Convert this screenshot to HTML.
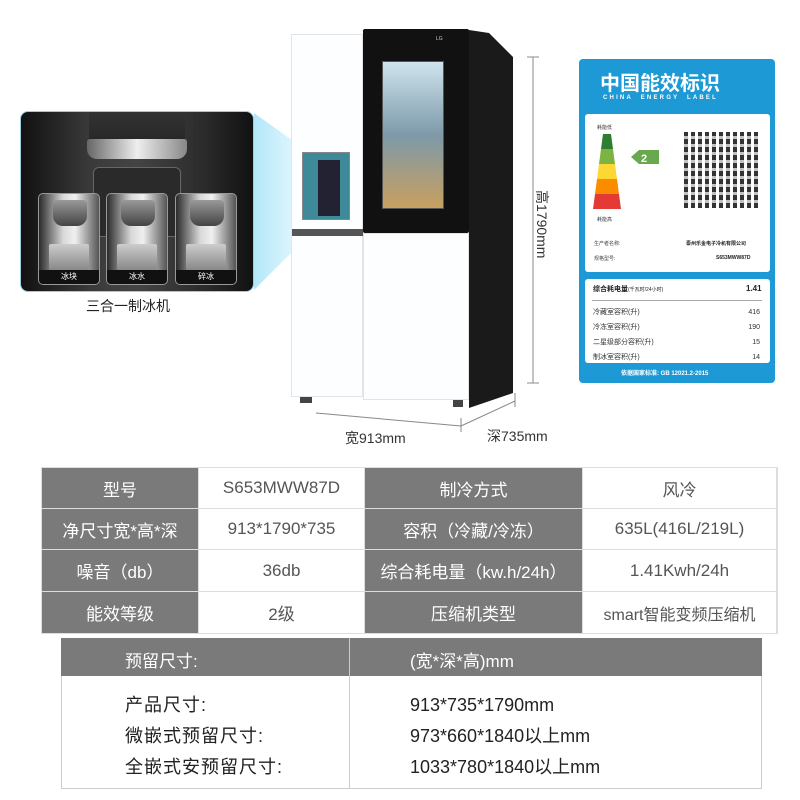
<!DOCTYPE html>
<html><head><meta charset="utf-8"><style>
*{margin:0;padding:0;box-sizing:border-box}
body{width:800px;height:800px;background:#fff;position:relative;overflow:hidden;font-family:"Liberation Sans","Noto Sans CJK SC",sans-serif}
.a{position:absolute}
.t{position:absolute;white-space:nowrap}
.cell{position:absolute;display:flex;align-items:center;justify-content:center;font-size:17px;white-space:nowrap}
.g{background:#7a7a7a;color:#fff}
.w{background:#fff;color:#555}
.panel{position:absolute;top:193px;height:92px;border:1px solid #999;border-radius:5px;background:linear-gradient(90deg,#2a2a2a,#d8d8d8 40%,#f0f0f0 60%,#555);overflow:hidden}
.panel .lb{position:absolute;left:0;right:0;bottom:0;height:14px;background:#111;color:#fff;font-size:8px;text-align:center;line-height:14px}
.panel .tap{position:absolute;left:14px;top:6px;width:34px;height:26px;background:linear-gradient(#999,#444);border-radius:4px 4px 10px 10px}
.panel .glass{position:absolute;left:10px;bottom:14px;width:40px;height:26px;background:linear-gradient(#ccc,#888);border-radius:2px}
</style></head><body>

<svg class="a" style="left:0;top:0" width="800" height="460">
<defs><linearGradient id="beam" x1="0" x2="1"><stop offset="0" stop-color="#a8e4f8" stop-opacity=".9"/><stop offset="1" stop-color="#d8f4fc" stop-opacity=".6"/></linearGradient></defs>
<polygon points="254,113 306,150 306,238 254,290" fill="url(#beam)"/>
<polygon points="469,30 489,33 513,57 513,393 469,408" fill="#1a1a1a"/>
<line x1="533" y1="57" x2="533" y2="383" stroke="#888" stroke-width="1"/>
<line x1="527" y1="57" x2="539" y2="57" stroke="#888"/>
<line x1="527" y1="383" x2="539" y2="383" stroke="#888"/>
<line x1="316" y1="413" x2="461" y2="426" stroke="#888"/>
<line x1="461" y1="426" x2="515" y2="401" stroke="#888"/>
<line x1="461" y1="418" x2="461" y2="432" stroke="#888"/>
<line x1="515" y1="393" x2="515" y2="407" stroke="#888"/>
</svg>
<div class="a" style="left:20px;top:111px;width:234px;height:181px;border-radius:8px;background:linear-gradient(90deg,#111,#3a3a3a 30%,#444 50%,#2a2a2a 80%,#111);border:1px solid #9cd;overflow:hidden">
 <div class="a" style="left:68px;top:0;width:96px;height:42px;background:linear-gradient(#333,#222)"></div>
 <div class="a" style="left:66px;top:27px;width:100px;height:20px;background:linear-gradient(90deg,#666,#eee,#888);border-radius:3px 3px 10px 10px"></div>
 <div class="a" style="left:72px;top:55px;width:88px;height:70px;border:1px solid #666;border-radius:6px;background:#2a2a2a"></div>
</div>
<div class="panel" style="left:38px;width:62px"><div class="tap"></div><div class="glass"></div><div class="lb">冰块</div></div>
<div class="panel" style="left:106px;width:62px"><div class="tap"></div><div class="glass"></div><div class="lb">冰水</div></div>
<div class="panel" style="left:175px;width:62px"><div class="tap"></div><div class="glass"></div><div class="lb">碎冰</div></div>
<div class="t" style="left:86px;top:296px;font-size:14px;color:#222">三合一制冰机</div>

<div class="a" style="left:291px;top:34px;width:72px;height:363px;background:#fcfeff;border:1px solid #e4e4e4"></div>
<div class="a" style="left:302px;top:152px;width:48px;height:68px;background:#3f8a99;border:1px solid #888"></div>
<div class="a" style="left:318px;top:160px;width:22px;height:56px;background:#223"></div>
<div class="a" style="left:292px;top:229px;width:71px;height:7px;background:#555"></div>
<div class="a" style="left:363px;top:29px;width:106px;height:204px;background:#111;border-radius:2px"></div>
<div class="a" style="left:382px;top:61px;width:62px;height:148px;background:linear-gradient(#cfe4ee,#7d99a8 50%,#c8a060);border:1px solid #555"></div>
<div class="a" style="left:363px;top:233px;width:106px;height:167px;background:#fcfeff;border:1px solid #e4e4e4"></div>
<div class="a" style="left:300px;top:397px;width:12px;height:6px;background:#444"></div>
<div class="a" style="left:453px;top:400px;width:10px;height:7px;background:#444"></div>
<div class="t" style="left:436px;top:36px;font-size:5px;color:#ccc">LG</div>

<div class="t" style="top:190px;font-size:14px;color:#333;transform:rotate(90deg);transform-origin:0 0;left:552px">高1790mm</div>
<div class="t" style="left:345px;top:428px;font-size:14px;color:#333">宽913mm</div>
<div class="t" style="left:487px;top:426px;font-size:14px;color:#333">深735mm</div>

<div class="a" style="left:579px;top:59px;width:196px;height:324px;background:#1d9ad6;border-radius:4px"></div>
<div class="t" style="left:600px;top:67px;font-size:20px;font-weight:bold;color:#fff;letter-spacing:0px">中国能效标识</div>
<div class="t" style="left:603px;top:95px;font-size:6px;font-weight:bold;color:#fff;letter-spacing:2.2px">CHINA&nbsp;&nbsp;ENERGY&nbsp;&nbsp;LABEL</div>
<div class="a" style="left:585px;top:114px;width:185px;height:158px;background:#fff;border-radius:3px"></div>
<div class="t" style="left:597px;top:124px;font-size:5px;color:#333">耗能低</div>
<svg class="a" style="left:593px;top:134px" width="90" height="80">
<polygon points="10,0 18,0 20,15 8,15" fill="#2e7d32"/>
<polygon points="8,15 20,15 22,30 6,30" fill="#7cb342"/>
<polygon points="6,30 22,30 24,45 4,45" fill="#fdd835"/>
<polygon points="4,45 24,45 26,60 2,60" fill="#fb8c00"/>
<polygon points="2,60 26,60 28,75 0,75" fill="#e53935"/>
<polygon points="38,23 46,16 66,16 66,30 46,30" fill="#6aa84f"/>
<text x="48" y="28" font-size="11" fill="#fff" font-weight="bold" font-family="Liberation Sans">2</text>
</svg>
<div class="t" style="left:597px;top:216px;font-size:5px;color:#333">耗能高</div>
<div class="a" style="left:684px;top:132px;width:76px;height:76px;background:repeating-linear-gradient(90deg,#111 0 4px,#fff 4px 7px),#111;opacity:.85"></div>
<div class="a" style="left:684px;top:132px;width:76px;height:76px;background:repeating-linear-gradient(0deg,transparent 0 5px,rgba(255,255,255,.7) 5px 8px)"></div>
<div class="t" style="left:594px;top:240px;font-size:5px;color:#444">生产者名称:</div>
<div class="t" style="left:686px;top:240px;font-size:5px;color:#222;font-weight:bold">泰州乐金电子冷机有限公司</div>
<div class="t" style="left:594px;top:255px;font-size:5px;color:#444">规格型号:</div>
<div class="t" style="left:716px;top:255px;font-size:5px;color:#222;font-weight:bold">S653MWW87D</div>
<div class="a" style="left:585px;top:279px;width:185px;height:84px;background:#fff;border-radius:3px"></div>
<div class="t" style="left:593px;top:284px;font-size:7px;color:#222;font-weight:bold">综合耗电量<span style="font-weight:normal;font-size:5px">(千瓦时/24小时)</span></div>
<div class="t" style="left:746px;top:284px;font-size:8px;color:#222;font-weight:bold">1.41</div>
<div class="a" style="left:592px;top:300px;width:170px;height:1px;background:#aaa"></div>
<div class="t" style="left:593px;top:305px;font-size:7px;color:#333;line-height:15px">冷藏室容积(升)<br>冷冻室容积(升)<br>二星级部分容积(升)<br>制冰室容积(升)</div>
<div class="t" style="left:740px;top:305px;font-size:7px;color:#333;line-height:15px;text-align:right;width:20px">416<br>190<br>15<br>14</div>
<div class="t" style="left:621px;top:368px;font-size:6px;color:#fff;font-weight:bold">依据国家标准: GB 12021.2-2015</div>

<div class="a" style="left:41px;top:467px;width:737px;height:167px;background:#ddd"></div>
<div class="cell g" style="left:42px;top:468px;width:156px;height:40px">型号</div>
<div class="cell w" style="left:199px;top:468px;width:165px;height:40px">S653MWW87D</div>
<div class="cell g" style="left:365px;top:468px;width:217px;height:40px">制冷方式</div>
<div class="cell w" style="left:583px;top:468px;width:193px;height:40px">风冷</div>
<div class="cell g" style="left:42px;top:509px;width:156px;height:40px">净尺寸宽*高*深</div>
<div class="cell w" style="left:199px;top:509px;width:165px;height:40px">913*1790*735</div>
<div class="cell g" style="left:365px;top:509px;width:217px;height:40px">容积（冷藏/冷冻）</div>
<div class="cell w" style="left:583px;top:509px;width:193px;height:40px">635L(416L/219L)</div>
<div class="cell g" style="left:42px;top:550px;width:156px;height:41px">噪音（db）</div>
<div class="cell w" style="left:199px;top:550px;width:165px;height:41px">36db</div>
<div class="cell g" style="left:365px;top:550px;width:217px;height:41px">综合耗电量（kw.h/24h）</div>
<div class="cell w" style="left:583px;top:550px;width:193px;height:41px">1.41Kwh/24h</div>
<div class="cell g" style="left:42px;top:592px;width:156px;height:41px">能效等级</div>
<div class="cell w" style="left:199px;top:592px;width:165px;height:41px">2级</div>
<div class="cell g" style="left:365px;top:592px;width:217px;height:41px">压缩机类型</div>
<div class="cell w" style="left:583px;top:592px;width:193px;height:41px;font-size:16px">smart智能变频压缩机</div>

<div class="a" style="left:61px;top:638px;width:701px;height:151px;border:1px solid #ccc"></div>
<div class="a" style="left:61px;top:638px;width:701px;height:38px;background:#7a7a7a"></div>
<div class="a" style="left:349px;top:638px;width:1px;height:151px;background:#ccc"></div>
<div class="t" style="left:125px;top:647px;font-size:17px;color:#fff">预留尺寸:</div>
<div class="t" style="left:410px;top:647px;font-size:17px;color:#fff">(宽*深*高)mm</div>
<div class="t" style="left:125px;top:690px;font-size:18px;color:#222;line-height:31px;letter-spacing:1px">产品尺寸:<br>微嵌式预留尺寸:<br>全嵌式安预留尺寸:</div>
<div class="t" style="left:410px;top:690px;font-size:18px;color:#222;line-height:31px">913*735*1790mm<br>973*660*1840以上mm<br>1033*780*1840以上mm</div>
</body></html>
